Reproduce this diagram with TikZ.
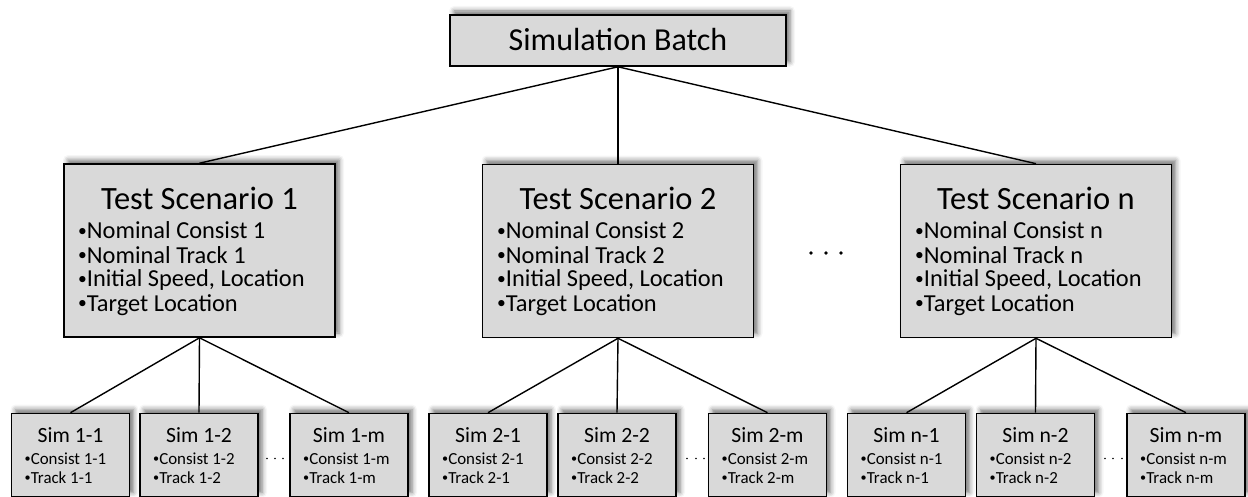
\documentclass[tikz,border=0pt]{standalone}
\usepackage{fontspec}
\setmainfont{Carlito}
\usetikzlibrary{shadows.blur}
\definecolor{boxgray}{HTML}{D9D9D9}
\newcommand\bul{\raisebox{0.1em}{\scalebox{0.72}{•}}}
\tikzset{
  box/.style={draw=black, line width=1.6pt, fill=boxgray, inner sep=0pt,
    blur shadow={shadow xshift=4pt, shadow yshift=4pt, shadow blur radius=5pt, shadow opacity=55}},
  topbox/.style={box, minimum width=336pt, minimum height=51pt},
  scenbox/.style={box, minimum width=271pt, minimum height=173pt},
  simbox/.style={box, minimum width=118pt, minimum height=83pt},
  toptext/.style={anchor=base, inner sep=0pt, font=\fontsize{32}{32}\selectfont},
  scentitle/.style={anchor=base, inner sep=0pt, font=\fontsize{32.5}{32.5}\selectfont},
  scenitem/.style={anchor=base west, inner sep=0pt, font=\fontsize{24.4}{24.4}\selectfont},
  simtitle/.style={anchor=base, inner sep=0pt, font=\fontsize{21.7}{21.7}\selectfont},
  simitem/.style={anchor=base west, inner sep=0pt, font=\fontsize{16.9}{16.9}\selectfont},
  link/.style={draw=black, line width=1.4pt},
  bigdot/.style={fill=black, draw=none},
}
\begin{document}
\begin{tikzpicture}[x=1pt, y=-1pt]
\useasboundingbox (0,0) rectangle (1248,497);

% top box
\node[topbox] (top) at (618,40.5) {};
\node[toptext] (toptxt) at (618,51) {Simulation Batch};

% scenario boxes
\node[scenbox] (s1) at (199.5,250.5) {};
\node[scenbox] (s2) at (618,251) {};
\node[scenbox] (sn) at (1036,251) {};

\foreach \c/\l/\n in {199.5/64/1, 618/483/2, 1036/901/n}{
  \node[scentitle] at (\c,210) {Test Scenario \n};
  \node[scenitem] at (\l+14,239) {\bul Nominal Consist \n};
  \node[scenitem] at (\l+14,263) {\bul Nominal Track \n};
  \node[scenitem] at (\l+14,287) {\bul Initial Speed, Location};
  \node[scenitem] at (\l+14,311) {\bul Target Location};
}

% dots between scenarios
\foreach \x in {811,826,841} \fill[bigdot] (\x,253) circle (1.8pt);

% sim boxes
\node[simbox] (m11) at (70.5,455) {};
\node[simbox] (m12) at (199,455) {};
\node[simbox] (m1m) at (349,455) {};
\node[simbox] (m21) at (488,455) {};
\node[simbox] (m22) at (617,455) {};
\node[simbox] (m2m) at (767.5,455) {};
\node[simbox] (mn1) at (906.5,455) {};
\node[simbox] (mn2) at (1035.5,455) {};
\node[simbox] (mnm) at (1186,455) {};

\foreach \c/\i/\j in {70.5/1/1, 199/1/2, 349/1/m, 488/2/1, 617/2/2, 767.5/2/m, 906.5/n/1, 1035.5/n/2, 1186/n/m}{
  \node[simtitle] at (\c,442) {Sim \i-\j};
  \node[simitem] at (\c-46,464) {\bul Consist \i-\j};
  \node[simitem] at (\c-46,483) {\bul Track \i-\j};
}

% small dots between sim boxes
\foreach \x in {267,275,283} \fill[bigdot] (\x,458.5) circle (0.8pt);
\foreach \x in {687,696,704} \fill[bigdot] (\x,458.5) circle (0.8pt);
\foreach \x in {1105,1113,1122} \fill[bigdot] (\x,458.5) circle (0.8pt);

% connectors
\draw[link] (top.south) -- (s1.north);
\draw[link] (top.south) -- (s2.north);
\draw[link] (top.south) -- (sn.north);
\draw[link] (s1.south) -- (m11.north);
\draw[link] (s1.south) -- (m12.north);
\draw[link] (s1.south) -- (m1m.north);
\draw[link] (s2.south) -- (m21.north);
\draw[link] (s2.south) -- (m22.north);
\draw[link] (s2.south) -- (m2m.north);
\draw[link] (sn.south) -- (mn1.north);
\draw[link] (sn.south) -- (mn2.north);
\draw[link] (sn.south) -- (mnm.north);
\end{tikzpicture}
\end{document}
